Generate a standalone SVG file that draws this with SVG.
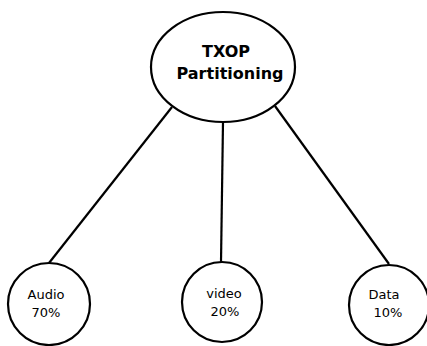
<svg xmlns="http://www.w3.org/2000/svg" width="427" height="346" viewBox="0 0 427 346">
<style>
.n{fill:#fff;stroke:#000;stroke-width:2.2}
.c{stroke:#000;stroke-width:2.2;fill:none}
.t{font-family:"DejaVu Sans",sans-serif;font-size:13px;fill:#000}
.b{font-family:"DejaVu Sans",sans-serif;font-size:16px;font-weight:bold;fill:#000}
</style>
<rect width="427" height="346" fill="#fff"/>
<g id="connectors">
<line class="c" x1="172" y1="107" x2="49" y2="263"/>
<line class="c" x1="223" y1="122" x2="221" y2="262"/>
<line class="c" x1="275" y1="106" x2="389" y2="264"/>
</g>
<g id="txop">
<ellipse class="n" cx="223" cy="67" rx="72" ry="55"/>
<text class="b" x="226" y="57" text-anchor="middle">TXOP</text>
<text class="b" x="230" y="79" text-anchor="middle">Partitioning</text>
</g>
<g id="audio">
<circle class="n" cx="49" cy="304" r="41"/>
<text class="t" x="46" y="299" text-anchor="middle">Audio</text>
<text class="t" x="46" y="317" text-anchor="middle">70%</text>
</g>
<g id="video">
<circle class="n" cx="222" cy="302" r="40"/>
<text class="t" x="224" y="298" text-anchor="middle">video</text>
<text class="t" x="225" y="316" text-anchor="middle">20%</text>
</g>
<g id="data">
<circle class="n" cx="389" cy="305" r="40"/>
<text class="t" x="384" y="299" text-anchor="middle">Data</text>
<text class="t" x="388" y="317" text-anchor="middle">10%</text>
</g>
</svg>
